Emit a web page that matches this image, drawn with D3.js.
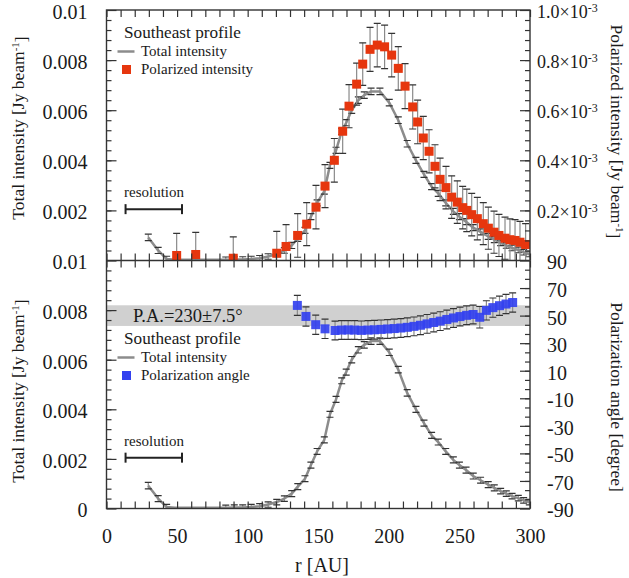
<!DOCTYPE html>
<html><head><meta charset="utf-8">
<script src="https://cdn.jsdelivr.net/npm/d3@7"></script>
<style>
body{margin:0;background:#fff}
svg text{font-family:"Liberation Serif","Times New Roman",serif;fill:#1a1a1a}
</style></head><body>
<svg id="c" width="629" height="578" font-family="Liberation Serif, Times New Roman, serif"></svg>
<script>
// ---------------- data ----------------
// Total intensity profile (Jy/beam) – same profile drawn in both panels
const rTotal = [29.6,36.6,42.6,48.5,54.5,60.5,66.5,72.5,78.5,84.5,90.5,96.5,102.5,108.5,114.5,120.6,126.0,131.2,135.5,140.6,144.8,149.2,154.3,158.3,162.6,166.6,169.8,173.7,178.4,182.6,187.4,193.7,200.3,206.7,213.0,219.2,224.9,230.3,235.0,240.3,245.7,250.0,254.7,259.8,265.0,270.4,274.7,279.2,283.2,287.3,291.7,295.5,299.5];
const vTotal = [0.00092,0.00040,0.00006,0.00003,0.00003,0.00003,0.00003,0.00003,0.00003,0.00003,0.00004,0.00004,0.00006,0.00009,0.00016,0.00026,0.00040,0.00060,0.00088,0.00120,0.00175,0.00230,0.00277,0.00380,0.00440,0.00515,0.00550,0.00600,0.00640,0.00660,0.00675,0.00675,0.00630,0.00560,0.00466,0.00400,0.00344,0.00295,0.00268,0.00230,0.00196,0.00175,0.00155,0.00131,0.00114,0.00096,0.00083,0.00070,0.00060,0.00050,0.00042,0.00033,0.00026];
const eTotal = [0.00013,0.00012,0.00011,0,0,0,0,0,0,0.00011,0.00011,0.00011,0.00011,0.00011,0.00011,0.00011,0.00011,0.00012,0.00012,0.00012,0.00012,0.00012,0.00012,0.00012,0.00012,0.00012,0.00012,0.00013,0.00013,0.00013,0.00013,0.00013,0.00013,0.00013,0.00013,0.00012,0.00012,0.00012,0.00012,0.00012,0.00012,0.00012,0.00012,0.00012,0.00012,0.00012,0.00012,0.00011,0.00011,0.00011,0.00011,0.00011,0.00011];

// Polarized intensity (units of 1e-3 Jy/beam)
const rPol = [49.7,63.2,89.8,120.6,127.2,135.4,141.8,148.4,154.8,161.4,167.3,171.8,177.2,181.5,186.7,191.8,197.0,202.0,206.7,211.5,216.9,220.4,224.4,228.5,232.7,236.3,240.5,244.5,248.5,252.3,255.2,258.7,262.7,266.9,270.5,274.5,278.0,282.3,285.8,289.4,292.9,296.9];
const vPol = [0.020,0.024,0.009,0.029,0.056,0.100,0.145,0.213,0.297,0.400,0.516,0.616,0.704,0.784,0.843,0.860,0.853,0.820,0.767,0.696,0.613,0.553,0.489,0.436,0.376,0.324,0.291,0.253,0.233,0.211,0.200,0.183,0.167,0.147,0.129,0.113,0.100,0.089,0.083,0.080,0.073,0.064];
const ePol = [0.088,0.088,0.085,0.087,0.087,0.087,0.086,0.087,0.086,0.087,0.088,0.086,0.084,0.085,0.088,0.087,0.087,0.087,0.087,0.090,0.088,0.087,0.086,0.086,0.086,0.085,0.085,0.085,0.085,0.085,0.085,0.085,0.085,0.084,0.084,0.084,0.084,0.084,0.083,0.083,0.083,0.083];

// Polarization angle (degree)
const rAng = [135.2,141.3,148.2,154.8,161.9,166.5,171.2,175.8,180.5,185.2,189.8,194.5,199.1,203.8,208.5,213.1,217.8,222.4,227.1,231.8,236.4,241.1,245.8,250.4,255.1,259.7,264.4,269.1,273.7,278.4,283.0,287.7];
const vAng = [57.4,49.4,43.4,40.4,39.2,39.5,39.6,39.5,39.3,39.5,39.7,40.0,40.3,40.6,41.0,41.5,42.2,43.0,44.0,45.0,46.0,47.2,48.3,49.3,50.2,50.8,48.8,53.8,55.8,57.2,58.4,59.5];
const eAng = [7.3,7.0,7.0,7.0,6.8,6.8,6.8,6.8,6.8,6.8,6.8,6.8,6.8,6.8,6.8,6.8,6.8,6.8,6.8,6.8,6.8,6.8,6.8,6.8,6.8,6.8,7.8,7.0,7.0,7.0,7.0,7.0];

// band and annotations
const paBand = [42.5, 57.5];
const paLabel = "P.A.=230±7.5°";
const resolution = [13.5, 53.5];
const resolutionLevel = 0.00205;

// tick labels
const xTicks = [0,50,100,150,200,250,300];
const topLeftTicks = [0.002,0.004,0.006,0.008,0.01];
const topLeftLabels = ["0.002","0.004","0.006","0.008","0.01"];
const topRightTicks = [0.2,0.4,0.6,0.8,1.0];
const topRightLabels = ["0.2","0.4","0.6","0.8","1.0"];
const botLeftTicks = [0,0.002,0.004,0.006,0.008,0.01];
const botLeftLabels = ["0","0.002","0.004","0.006","0.008","0.01"];
const botRightTicks = [-90,-70,-50,-30,-10,10,30,50,70,90];
const botRightLabels = ["-90","-70","-50","-30","-10","10","30","50","70","90"];

// ---------------- layout ----------------
const X0=106.5, X1=530, TT=10, TB=260.5, BT=260.5, BB=508.5;
const svg = d3.select("#c");
const RED="#e6360e", BLUE="#3341ef", GRAY="#8c8c8c", FRAME="#333";

const x = d3.scaleLinear([0,300],[X0,X1]);
const yTL = d3.scaleLinear([0,0.01],[TB,TT]);
const yTR = d3.scaleLinear([0,1.0],[TB,TT]);
const yBL = d3.scaleLinear([0,0.01],[BB,BT]);
const yBR = d3.scaleLinear([-90,90],[BB,BT]);

// clip paths
const defs = svg.append("defs");
defs.append("clipPath").attr("id","clipT").append("rect").attr("x",X0).attr("y",TT).attr("width",X1-X0).attr("height",TB-TT);
defs.append("clipPath").attr("id","clipB").append("rect").attr("x",X0).attr("y",BT).attr("width",X1-X0).attr("height",BB-BT);

const gT = svg.append("g").attr("clip-path","url(#clipT)");
const gB = svg.append("g").attr("clip-path","url(#clipB)");

// PA band
gB.append("rect").attr("x",x(0)).attr("width",x(300)-x(0))
  .attr("y",yBR(paBand[1])).attr("height",yBR(paBand[0])-yBR(paBand[1]))
  .attr("fill","#d0d0d0");

function errorBars(g, rs, vs, es, y, cap){
  const gg = g.append("g");
  rs.forEach((r,i)=>{
    if(!es[i]) return;
    const cx=x(r), y1=y(vs[i]+es[i]), y2=y(vs[i]-es[i]);
    gg.append("line").attr("x1",cx).attr("x2",cx).attr("y1",y1).attr("y2",y2).attr("stroke","#8a8a8a").attr("stroke-width",1.2);
    [y1,y2].forEach(yy=>gg.append("line").attr("x1",cx-cap).attr("x2",cx+cap).attr("y1",yy).attr("y2",yy).attr("stroke","#333").attr("stroke-width",1.2));
  });
}
function totalCurve(g, y){
  const pts = rTotal.map((r,i)=>[r,vTotal[i]]);
  g.append("path").attr("d", d3.line().x(d=>x(d[0])).y(d=>y(d[1]))(pts))
    .attr("fill","none").attr("stroke",GRAY).attr("stroke-width",2.5).attr("stroke-linejoin","round");
  errorBars(g, rTotal, vTotal, eTotal, y, 3.5);
}

// top panel
totalCurve(gT, yTL);
errorBars(gT, rPol, vPol, ePol, yTR, 3.5);
gT.append("g").selectAll("rect").data(rPol).join("rect")
  .attr("x",(d)=>x(d)-4.5).attr("y",(d,i)=>yTR(vPol[i])-4.5).attr("width",9).attr("height",9).attr("fill",RED);

// bottom panel
totalCurve(gB, yBL);
errorBars(gB, rAng, vAng, eAng, yBR, 3.5);
gB.append("g").selectAll("rect").data(rAng).join("rect")
  .attr("x",(d)=>x(d)-4.5).attr("y",(d,i)=>yBR(vAng[i])-4.5).attr("width",9).attr("height",9).attr("fill",BLUE).attr("fill-opacity",0.92);

// P.A. label
svg.append("text").attr("x",x(18.8)).attr("y",yBR(50)).attr("dy","0.33em").attr("font-size","18.5px").text(paLabel);

// axes helpers
function styleAxis(g){
  g.attr("font-family",null);
  g.select(".domain").remove();
  g.selectAll(".tick line").attr("stroke",FRAME).attr("stroke-width",1.2);
  g.selectAll(".tick text").attr("fill","#1a1a1a");
  return g;
}
const minorX = d3.range(0,301,10);
styleAxis(svg.append("g").attr("transform",`translate(0,${TT})`).call(d3.axisBottom(x).tickValues(minorX).tickSize(7).tickFormat("")));
styleAxis(svg.append("g").attr("transform",`translate(0,${TB})`).call(d3.axisTop(x).tickValues(minorX).tickSize(7).tickFormat("")));
styleAxis(svg.append("g").attr("transform",`translate(0,${BT})`).call(d3.axisBottom(x).tickValues(minorX).tickSize(7).tickFormat("")));
styleAxis(svg.append("g").attr("transform",`translate(0,${BB})`).call(d3.axisTop(x).tickValues(minorX).tickSize(7).tickFormat("")));
const gx = styleAxis(svg.append("g").attr("transform",`translate(0,${BB})`)
  .call(d3.axisBottom(x).tickValues(xTicks).tickSize(0).tickPadding(20).tickFormat(d=>String(d))));
gx.selectAll(".tick text").attr("font-size","20px");

// top-left axis
styleAxis(svg.append("g").attr("transform",`translate(${X0},0)`).call(d3.axisRight(yTL).tickValues(d3.range(0.0004,0.00999,0.0004)).tickSize(5).tickFormat("")));
const gTL = styleAxis(svg.append("g").attr("transform",`translate(${X0},0)`)
  .call(d3.axisLeft(yTL).tickValues(topLeftTicks).tickSizeInner(-10).tickSizeOuter(0).tickPadding(19).tickFormat((d,i)=>topLeftLabels[i])));
gTL.selectAll(".tick text").attr("font-size","20px").attr("dy","0.42em");

// top-right axis
styleAxis(svg.append("g").attr("transform",`translate(${X1},0)`).call(d3.axisLeft(yTR).tickValues(d3.range(0.04,0.999,0.04)).tickSize(5).tickFormat("")));
const gTR = styleAxis(svg.append("g").attr("transform",`translate(${X1},0)`)
  .call(d3.axisRight(yTR).tickValues(topRightTicks).tickSizeInner(-10).tickSizeOuter(0).tickPadding(7).tickFormat((d,i)=>topRightLabels[i])));
gTR.selectAll(".tick text").attr("font-size","18px").attr("dy","0.42em").each(function(d,i){
  const t=d3.select(this); t.text(null);
  t.append("tspan").text(topRightLabels[i]+"×10");
  t.append("tspan").attr("dy","-0.5em").attr("font-size","12px").text("-3");
});

// bottom-left axis
styleAxis(svg.append("g").attr("transform",`translate(${X0},0)`).call(d3.axisRight(yBL).tickValues(d3.range(0.0004,0.00999,0.0004)).tickSize(5).tickFormat("")));
const gBL = styleAxis(svg.append("g").attr("transform",`translate(${X0},0)`)
  .call(d3.axisLeft(yBL).tickValues(botLeftTicks).tickSizeInner(-10).tickSizeOuter(0).tickPadding(19).tickFormat((d,i)=>botLeftLabels[i])));
gBL.selectAll(".tick text").attr("font-size","20px").attr("dy","0.42em");

// bottom-right axis
styleAxis(svg.append("g").attr("transform",`translate(${X1},0)`).call(d3.axisLeft(yBR).tickValues(d3.range(-90+20/3,89.9,20/3)).tickSize(5).tickFormat("")));
const gBR = styleAxis(svg.append("g").attr("transform",`translate(${X1},0)`)
  .call(d3.axisRight(yBR).tickValues(botRightTicks).tickSizeInner(-10).tickSizeOuter(0).tickPadding(17).tickFormat((d,i)=>botRightLabels[i])));
gBR.selectAll(".tick text").attr("font-size","20px").attr("dy","0.42em");

// frames
svg.append("rect").attr("x",X0).attr("y",TT).attr("width",X1-X0).attr("height",BB-TT).attr("fill","none").attr("stroke",FRAME).attr("stroke-width",1.4);
svg.append("line").attr("x1",X0).attr("x2",X1).attr("y1",TB).attr("y2",TB).attr("stroke",FRAME).attr("stroke-width",1.4);

// resolution bars
function resBar(y, lvl){
  const g=svg.append("g");
  const yy=y(lvl);
  g.append("line").attr("x1",x(resolution[0])).attr("x2",x(resolution[1])).attr("y1",yy).attr("y2",yy).attr("stroke","#222").attr("stroke-width",2);
  resolution.forEach(r=>g.append("line").attr("x1",x(r)).attr("x2",x(r)).attr("y1",yy-5).attr("y2",yy+5).attr("stroke","#222").attr("stroke-width",2));
  g.append("text").attr("x",x(resolution[0])-1.5).attr("y",yy-17).attr("dy","0.33em").attr("font-size","15px").text("resolution");
}
resBar(yTL, resolutionLevel);
resBar(yBL, resolutionLevel);

// legends
function legend(y0, label2, color){
  const g=svg.append("g");
  g.append("text").attr("x",124).attr("y",y0).attr("dy","0.33em").attr("font-size","17.2px").text("Southeast profile");
  g.append("line").attr("x1",117.5).attr("x2",134.5).attr("y1",y0+19).attr("y2",y0+19).attr("stroke",GRAY).attr("stroke-width",2.5);
  g.append("text").attr("x",141).attr("y",y0+19).attr("dy","0.33em").attr("font-size","15px").text("Total intensity");
  g.append("rect").attr("x",122).attr("y",y0+37-4.5).attr("width",9).attr("height",9).attr("fill",color);
  g.append("text").attr("x",141).attr("y",y0+37).attr("dy","0.33em").attr("font-size","15px").text(label2);
}
legend(32.5, "Polarized intensity", RED);
legend(338.5, "Polarization angle", BLUE);

// axis titles
function vtitle(cx, cy, rot, main, sup){
  const t=svg.append("text").attr("transform",`translate(${cx},${cy}) rotate(${rot})`)
    .attr("text-anchor","middle").attr("dy","0.33em").attr("font-size","17.5px");
  t.append("tspan").text(main);
  if(sup){
    t.append("tspan").attr("dy","-0.45em").attr("font-size","11px").text("-1");
    t.append("tspan").attr("dy","0.45em").text("]");
  }
}
vtitle(18,128,-90,"Total intensity [Jy beam",true);
vtitle(18,391,-90,"Total intensity [Jy beam",true);
vtitle(617,131.5,90,"Polarized intensity [Jy beam",true);
vtitle(617,397,90,"Polarization angle [degree]",false);
svg.append("text").attr("x",322).attr("y",565).attr("text-anchor","middle").attr("dy","0.33em").attr("font-size","20px").text("r [AU]");
</script>
</body></html>
